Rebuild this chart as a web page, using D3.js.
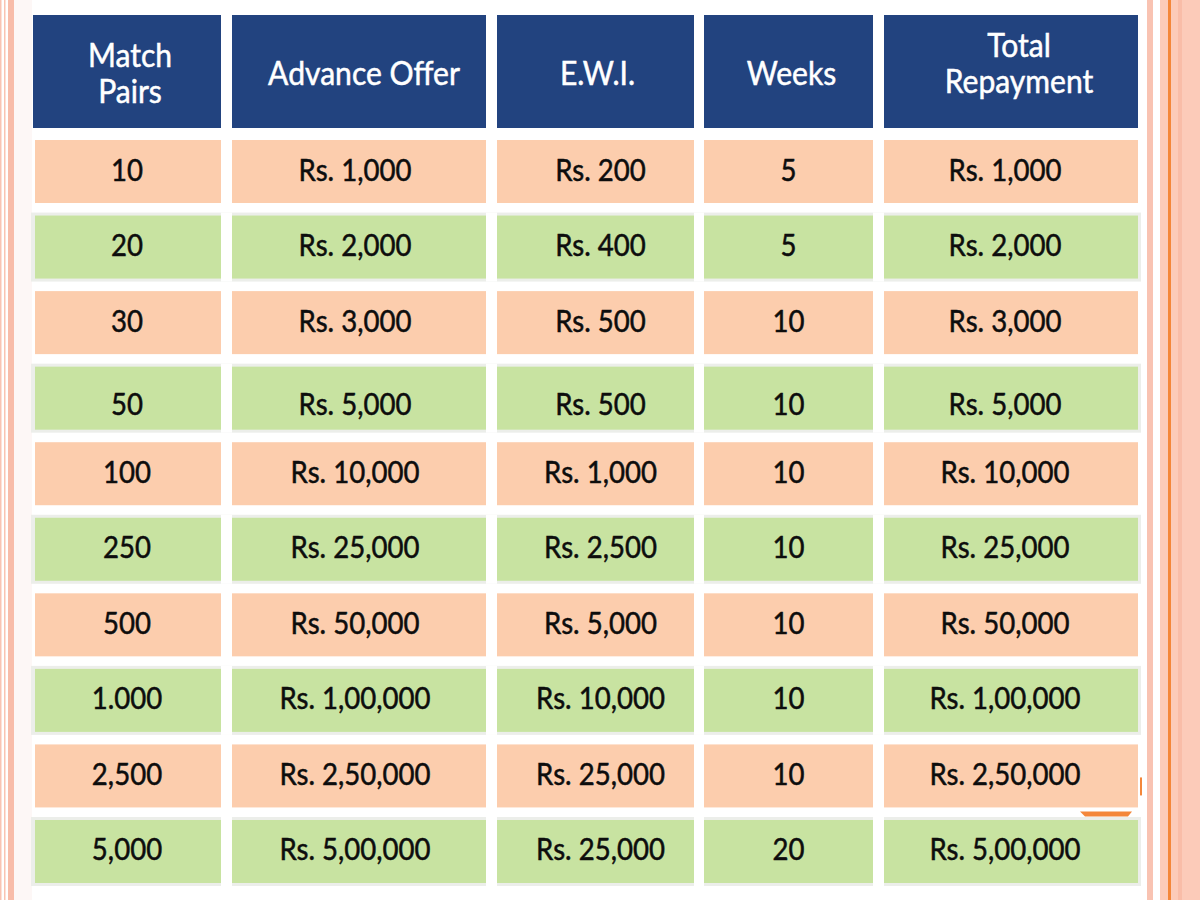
<!DOCTYPE html>
<html><head><meta charset="utf-8">
<script src="https://cdn.jsdelivr.net/npm/d3@7"></script>
<style>body{margin:0;background:#fff}svg{display:block}</style>
</head><body><svg id="c" width="1200" height="900"></svg>
<script>
// ---- data ----
const headers = [["Match","Pairs"],["Advance Offer"],["E.W.I."],["Weeks"],["Total","Repayment"]];
const matchPairs = ["10","20","30","50","100","250","500","1.000","2,500","5,000"];
const advanceOffer = ["Rs. 1,000","Rs. 2,000","Rs. 3,000","Rs. 5,000","Rs. 10,000","Rs. 25,000","Rs. 50,000","Rs. 1,00,000","Rs. 2,50,000","Rs. 5,00,000"];
const ewi = ["Rs. 200","Rs. 400","Rs. 500","Rs. 500","Rs. 1,000","Rs. 2,500","Rs. 5,000","Rs. 10,000","Rs. 25,000","Rs. 25,000"];
const weeks = ["5","5","10","10","10","10","10","10","10","20"];
const totalRepayment = ["Rs. 1,000","Rs. 2,000","Rs. 3,000","Rs. 5,000","Rs. 10,000","Rs. 25,000","Rs. 50,000","Rs. 1,00,000","Rs. 2,50,000","Rs. 5,00,000"];
const columns = [matchPairs, advanceOffer, ewi, weeks, totalRepayment];

// ---- layout / style ----
const colEdges = [[33,221],[232,486],[497,694],[704,873],[884,1138]];
const headerTop = 15, headerBottom = 128;
const headerBaselines = [[67,103],[85],[85],[85],[57,93]];
const headerShift = [3,5,2,3,8];
const bodyShift = [0,-4,5,0,-6];
const rowShift = [0,0,0,8,0,0,0,0,0,0];
const C = {blue:"#22437F", peach:"#FCCDAD", green:"#C8E3A1", greenEdge:"#ECEEEA", text:"#0d0d0d", pink:"#F9C3B2", orange:"#F4873A"};
const FONT = "Lato, 'Open Sans', sans-serif";

const svg = d3.select("#c");
const rows = d3.range(matchPairs.length);
const y = d3.scaleBand().domain(rows).range([140, 883]).paddingInner(0.166).paddingOuter(0);

// decorative page borders
const deco = svg.append("g");
deco.append("rect").attr("x",0).attr("y",0).attr("width",1.5).attr("height",900).attr("fill",C.pink);
deco.append("rect").attr("x",4).attr("y",0).attr("width",1.5).attr("height",900).attr("fill",C.pink);
deco.append("rect").attr("x",8).attr("y",0).attr("width",6).attr("height",900).attr("fill","#F8BCA9");
deco.append("rect").attr("x",14).attr("y",0).attr("width",18).attr("height",900).attr("fill","#FDF7F6");
deco.append("rect").attr("x",1147).attr("y",0).attr("width",6).attr("height",900).attr("fill",C.pink);
deco.append("rect").attr("x",1160).attr("y",0).attr("width",40).attr("height",900).attr("fill","#FCCBB9");
deco.append("rect").attr("x",1168).attr("y",0).attr("width",3).attr("height",900).attr("fill",C.orange);
deco.append("rect").attr("x",1178).attr("y",0).attr("width",4).attr("height",900).attr("fill","#F9BDA8");

// header
const hg = svg.append("g");
hg.selectAll("rect").data(headers).join("rect")
  .attr("x",(d,i)=>colEdges[i][0]).attr("y",headerTop)
  .attr("width",(d,i)=>colEdges[i][1]-colEdges[i][0]).attr("height",headerBottom-headerTop)
  .attr("fill",C.blue);
headers.forEach((lines,i)=>{
  const cx=(colEdges[i][0]+colEdges[i][1])/2 + headerShift[i];
  lines.forEach((t,k)=>{
    hg.append("text").attr("transform",`translate(${cx},${headerBaselines[i][k]}) scale(0.94,1)`)
      .attr("text-anchor","middle").attr("font-family",FONT).attr("font-size",32)
      .attr("fill","#fff").attr("stroke","#fff").attr("stroke-width",0.5).text(t);
  });
});

// body
const bg = svg.append("g");
rows.forEach(r=>{
  const isGreen = r%2===1;
  if(isGreen){
    bg.append("rect").attr("x",31).attr("y",y(r)-3).attr("width",1141-31).attr("height",y.bandwidth()+6).attr("fill",C.greenEdge);
  }
  columns.forEach((col,i)=>{
    const x0 = colEdges[i][0] + (i===0?2:0);
    bg.append("rect").attr("x",x0).attr("y",y(r)).attr("width",colEdges[i][1]-x0).attr("height",y.bandwidth())
      .attr("fill",isGreen?C.green:C.peach);
    const cx=(colEdges[i][0]+colEdges[i][1])/2 + bodyShift[i];
    bg.append("text").attr("transform",`translate(${cx},${y(r)+y.bandwidth()/2+9+rowShift[r]}) scale(0.92,1)`)
      .attr("text-anchor","middle").attr("font-family",FONT).attr("font-size",30)
      .attr("fill",C.text).attr("stroke",C.text).attr("stroke-width",0.5).text(col[r]);
  });
  if(isGreen){
    colEdges.slice(0,-1).forEach((e,i)=>{
      bg.append("rect").attr("x",e[1]).attr("y",y(r)-3).attr("width",colEdges[i+1][0]-e[1]).attr("height",y.bandwidth()+6).attr("fill","#fff");
    });
  }
});

// small orange widget remnants near row 9
const r9 = y(8)+y.bandwidth();
deco.append("path").attr("d",`M1080,${r9+4} L1132,${r9+4} L1128,${r9+9} L1085,${r9+9} Z`).attr("fill",C.orange);
deco.append("rect").attr("x",1140).attr("y",y(8)+33).attr("width",2).attr("height",18).attr("fill",C.orange);
</script></body></html>
